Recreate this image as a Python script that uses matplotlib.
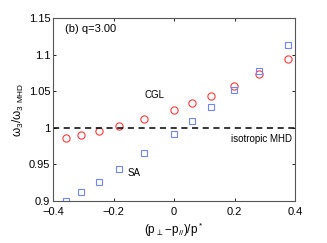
import matplotlib.pyplot as plt

# anisotropy (p_perp - p_par)/p*
x = [-0.356, -0.307, -0.249, -0.183, -0.099, 0.0, 0.058, 0.122, 0.197, 0.281, 0.378]
cgl = [0.986, 0.990, 0.996, 1.003, 1.012, 1.025, 1.034, 1.044, 1.057, 1.074, 1.094]
sa = [0.900, 0.912, 0.926, 0.944, 0.965, 0.992, 1.009, 1.028, 1.051, 1.078, 1.113]

xticks = [-0.4, -0.2, 0, 0.2, 0.4]
yticks = [0.9, 0.95, 1, 1.05, 1.1, 1.15]
yticklabels = ['0.9', '0.95', '1', '1.05', '1.1', '1.15']

plt.rcParams['font.family'] = ['Liberation Sans', 'DejaVu Sans']
fig = plt.figure(figsize=(3.27, 2.43), dpi=100)
ax = fig.add_axes([53/327, 42/243, 242/327, 183/243])

ax.plot(x, cgl, 'o', mfc='none', mec='#ff3b3b', ms=5.2, mew=0.8)
ax.plot(x, sa, 's', mfc='none', mec='#6f86ff', ms=4.6, mew=0.8)
ax.plot([-0.4, 0.4], [1, 1], '--', color='black', lw=1.1, dashes=(4, 3))

ax.set_xlim(-0.4, 0.4)
ax.set_ylim(0.9, 1.15)
ax.set_xticks(xticks)
ax.set_xticklabels(['\u22120.4', '\u22120.2', '0', '0.2', '0.4'])
ax.set_yticks(yticks)
ax.set_yticklabels(yticklabels)
ax.tick_params(direction='in', top=True, right=True, labelsize=8, length=2.5, width=0.6, pad=2)
ax.tick_params(axis='x', pad=4)
for s in ax.spines.values():
    s.set_color('#555555')
    s.set_linewidth(0.8)

ax.text(-0.36, 1.135, '(b) q=3.00', fontsize=8, va='center')
ax.text(-0.063, 1.045, 'CGL', fontsize=7, ha='center', va='center')
ax.text(-0.155, 0.938, 'SA', fontsize=7, ha='left', va='center')
ax.text(0.389, 0.985, 'isotropic MHD', fontsize=7, ha='right', va='center')

ax.set_xlabel(r'$\mathregular{(p_\perp\!-\!p_{//})/p^*}$', fontsize=8.5, labelpad=3)
ax.set_ylabel(r'$\mathregular{\omega_3/\omega_{3\ MHD}}$', fontsize=8.5, labelpad=2)

plt.savefig('out.png', dpi=100)
